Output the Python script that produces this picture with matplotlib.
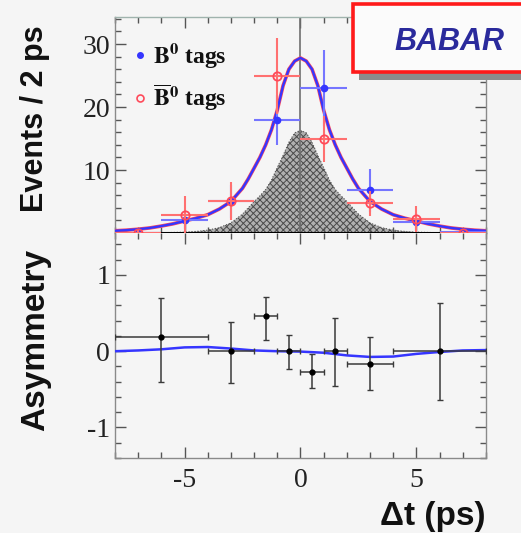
import matplotlib
matplotlib.use("Agg")
import matplotlib.pyplot as plt
from matplotlib.lines import Line2D
from matplotlib.patches import Rectangle
from matplotlib.ticker import MultipleLocator

plt.rcParams["mathtext.fontset"] = "stix"
plt.rcParams["hatch.linewidth"] = 0.7

# ---- binned Delta t distributions (bins of 2 ps) ----
dt_bins = [-7, -5, -3, -1, 1, 3, 5, 7]
dt_halfwidth = [1, 1, 1, 1, 1, 1, 1, 1]

b0_counts = [0.0, 2.1, 5.0, 17.9, 23.0, 6.8, 1.8, 0.1]
b0_err = [0.3, 1.4, 2.6, 4.0, 6.0, 3.4, 1.3, 0.3]

b0bar_counts = [0.0, 2.9, 5.1, 24.9, 14.9, 4.7, 2.2, 0.0]
b0bar_err = [0.4, 2.9, 3.0, 6.0, 3.6, 2.0, 2.1, 0.3]

# ---- fitted PDF (total) and background component ----
fit_t = [-8, -7.5, -7, -6.5, -6, -5.5, -5, -4.5, -4, -3.5, -3, -2.5, -2.25,
         -2, -1.75, -1.5, -1.25, -1, -0.75, -0.5, -0.25, 0,
         0.25, 0.5, 0.75, 1, 1.25, 1.5, 1.75, 2, 2.25, 2.5, 3, 3.5, 4, 4.5,
         5, 5.5, 6, 6.5, 7, 7.5, 8]
fit_total = [0.35, 0.45, 0.6, 0.8, 1.1, 1.45, 1.9, 2.35, 2.9, 3.8, 5.0, 7.1, 8.6,
             10.3, 12.0, 14.0, 16.4, 19.5, 23.4, 26.0, 27.3, 27.8,
             27.3, 26.0, 23.4, 19.5, 16.4, 14.0, 12.0, 10.3, 8.6, 7.1, 5.0, 3.8,
             2.9, 2.35, 1.9, 1.45, 1.1, 0.8, 0.6, 0.45, 0.35]
fit_bkg = [0.0, 0.01, 0.02, 0.03, 0.05, 0.08, 0.13, 0.25, 0.45, 0.85, 1.6, 3.0, 4.0,
           5.0, 5.9, 6.9, 8.4, 10.4, 12.3, 14.4, 15.9, 16.3,
           15.9, 14.4, 12.3, 10.4, 8.4, 6.9, 5.9, 5.0, 4.0, 3.0, 1.6, 0.85,
           0.45, 0.25, 0.13, 0.08, 0.05, 0.03, 0.02, 0.01, 0.0]

# ---- tagging asymmetry ----
asym_t = [-6, -3, -1.5, -0.5, 0.5, 1.5, 3, 6]
asym_xerr = [2, 1, 0.5, 0.5, 0.5, 0.5, 1, 2]
asym_val = [0.19, 0.0, 0.46, 0.0, -0.27, 0.0, -0.17, 0.0]
asym_err_lo = [0.60, 0.42, 0.31, 0.23, 0.21, 0.45, 0.34, 0.64]
asym_err_hi = [0.51, 0.38, 0.25, 0.21, 0.23, 0.44, 0.36, 0.63]

asym_fit_t = [-8, -7, -6, -5, -4, -3, -2, -1, 0, 1, 2, 3, 4, 5, 6, 7, 8]
asym_fit = [0.0, 0.01, 0.025, 0.05, 0.055, 0.035, 0.01, 0.0, -0.005, -0.02,
            -0.055, -0.075, -0.07, -0.035, -0.01, 0.01, 0.015]

BG = "#f5f5f5"
BLUE = "#3535ff"
RED = "#ff4a5a"
SPINE = "#8a8a8a"

fig = plt.figure(figsize=(5.21, 5.33), dpi=100, facecolor=BG)
ax1 = fig.add_axes([0.2207, 0.5629, 0.712, 0.4052], facecolor=BG)
ax2 = fig.add_axes([0.2207, 0.1407, 0.712, 0.4222], facecolor=BG)

serif = ["Liberation Serif", "DejaVu Serif"]
sans = ["Liberation Sans", "DejaVu Sans"]

# ---------------- top panel ----------------
ax1.fill_between(fit_t, 0, fit_bkg, facecolor="#b0b0b0", edgecolor="#4a4a4a",
                 hatch="xxxxx", linewidth=0.0, zorder=1)
ax1.plot(fit_t, fit_bkg, color="#555555", lw=0.8, ls=":", zorder=1.5)
ax1.axvline(0, color="#6f6f6f", lw=1.2, zorder=2)
ax1.axhline(0, color="black", lw=2.2, zorder=5)

ax1.plot(fit_t, fit_total, color=RED, lw=2.6, zorder=3)
ax1.plot(fit_t, fit_total, color=BLUE, lw=1.7, zorder=3.5)

ax1.errorbar(dt_bins, b0_counts, xerr=dt_halfwidth, yerr=b0_err, fmt="o",
             color=BLUE, ecolor="#7575ff", elinewidth=1.5, ms=4.5, capsize=0,
             zorder=6, clip_on=False)
ax1.errorbar(dt_bins, b0bar_counts, xerr=dt_halfwidth, yerr=b0bar_err, fmt="o",
             mfc="none", mec=RED, mew=1.3, ecolor="#ff7070", elinewidth=1.5,
             ms=6, capsize=0, zorder=6.2, clip_on=False)

ax1.set_xlim(-8, 8)
ax1.set_ylim(0, 34.3)
ax1.yaxis.set_major_locator(MultipleLocator(10))
ax1.yaxis.set_minor_locator(MultipleLocator(2))
ax1.xaxis.set_major_locator(MultipleLocator(5))
ax1.xaxis.set_minor_locator(MultipleLocator(1))
ax1.set_yticks([10, 20, 30])
ax1.tick_params(axis="x", labelbottom=False)

handles = [
    Line2D([], [], ls="none", marker="o", ms=4, color=BLUE),
    Line2D([], [], ls="none", marker="o", ms=5, mfc="none", mec=RED, mew=1.2),
]
leg = ax1.legend(handles, [r"$\mathbf{B}^{\mathbf{0}}$ tags",
                           r"$\overline{\mathbf{B}}^{\mathbf{0}}$ tags"],
                 loc="upper left", bbox_to_anchor=(-0.01, 0.985), frameon=False,
                 handlelength=0.6, handletextpad=0.25, labelspacing=0.5,
                 prop={"family": serif, "weight": "bold", "size": 17})
for t in leg.get_texts():
    t.set_color("#111111")

# ---------------- asymmetry panel ----------------
ax2.plot(asym_fit_t, asym_fit, color=BLUE, lw=1.8, zorder=3)
ax2.errorbar(asym_t, asym_val, xerr=asym_xerr, yerr=[asym_err_lo, asym_err_hi],
             fmt="o", color="black", ecolor="#3a3a3a", elinewidth=1.1,
             ms=3.5, capsize=2.2, capthick=1.0, zorder=4)
ax2.set_xlim(-8, 8)
ax2.set_ylim(-1.40, 1.55)
ax2.yaxis.set_major_locator(MultipleLocator(1))
ax2.yaxis.set_minor_locator(MultipleLocator(0.2))
ax2.xaxis.set_major_locator(MultipleLocator(5))
ax2.xaxis.set_minor_locator(MultipleLocator(1))

for ax in (ax1, ax2):
    for s in ax.spines.values():
        s.set_color(SPINE)
        s.set_linewidth(1.0)
    ax.tick_params(which="both", direction="in", top=True, right=True,
                   color="#555555", width=1.0)
    ax.tick_params(which="major", length=8)
    ax.tick_params(which="minor", length=4)
ax1.spines["top"].set_color("#9fb3ad")
ax2.spines["top"].set_visible(False)
ax2.tick_params(axis="x", pad=7)

ax2.set_xticks([-5, 0, 5])
ax2.set_xticklabels(["-5", "0", "5"], family=serif, fontsize=20, color="#222222")
ax2.set_yticks([-1, 0, 1])
ax2.set_yticklabels(["-1", "0", "1"], family=serif, fontsize=20, color="#222222")
ax1.set_yticklabels(["10", "20", "30"], family=serif, fontsize=20, color="#222222")

# axis titles
fig.text(0.068, 0.777, "Events / 2 ps", rotation=90, ha="center", va="center",
         fontsize=22, fontweight="bold", family=sans, color="#111111")
fig.text(0.068, 0.362, "Asymmetry", rotation=90, ha="center", va="center",
         fontsize=24, fontweight="bold", family=sans, color="#111111")
fig.text(0.932, 0.031, "\u0394t (ps)", ha="right", va="center",
         fontsize=24, fontweight="bold", family=sans, color="#111111")

# experiment logo box
fig.patches.append(Rectangle((0.690, 0.850), 0.50, 0.128, transform=fig.transFigure,
                             facecolor="#8c8c8c", edgecolor="none", zorder=10))
fig.patches.append(Rectangle((0.678, 0.865), 0.50, 0.127, transform=fig.transFigure,
                             facecolor="#fbfbfb", edgecolor="#ff1a1a", lw=2.6, zorder=11))
fig.text(0.862, 0.921, "BABAR", ha="center", va="center", fontsize=22,
         fontweight="bold", style="italic", color="#2a2a9c",
         family=sans, zorder=12)

fig.savefig("out.png", dpi=100, facecolor=BG)
